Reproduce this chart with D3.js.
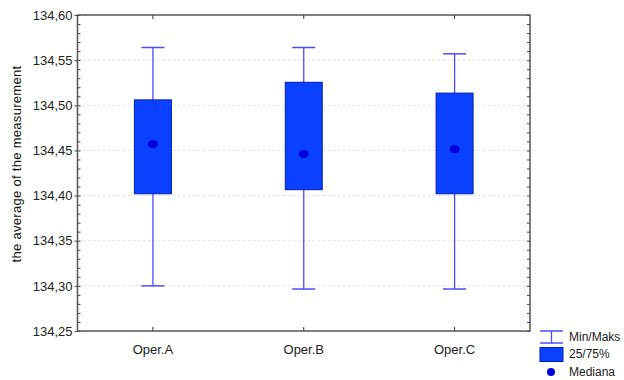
<!DOCTYPE html>
<html lang="en">
<head>
<meta charset="UTF-8">
<script src="https://d3js.org/d3.v7.min.js"></script>
<style>
    body { margin: 0; background: #fff; }
    svg { font-family: Arial, "Liberation Sans", sans-serif; }
</style>
</head>
<body>
<svg id="chart" width="624" height="380"></svg>
<script>
    // data
    var operators = ["Oper.A", "Oper.B", "Oper.C"];
    var minVals   = [134.300, 134.2965, 134.2965];
    var q25Vals   = [134.402, 134.4065, 134.402];
    var medVals   = [134.457, 134.446, 134.4515];
    var q75Vals   = [134.506, 134.5255, 134.5135];
    var maxVals   = [134.564, 134.564, 134.557];
    var yTicks    = [134.25, 134.30, 134.35, 134.40, 134.45, 134.50, 134.55, 134.60];
    var legendLabels = ["Min/Maks", "25/75%", "Mediana"];

    var margin = {top: 15, right: 94, bottom: 49, left: 77.5},
        width = 624 - margin.left - margin.right,
        height = 380 - margin.top - margin.bottom;

    var svg = d3.select("#chart");
    var g = svg.append("g")
        .attr("transform", "translate(" + margin.left + "," + margin.top + ")");

    var x = d3.scaleBand().domain(operators).range([0, width]);
    var y = d3.scaleLinear().domain([134.25, 134.60]).range([height, 0]);

    var fmt = function(d) { return d3.format(".2f")(d).replace(".", ","); };

    // grid lines
    g.selectAll(".grid")
        .data(yTicks.slice(1, -1))
        .enter().append("line")
        .attr("x1", 0).attr("x2", width)
        .attr("y1", function(d) { return y(d); })
        .attr("y2", function(d) { return y(d); })
        .attr("stroke", "#e2e2e2")
        .attr("stroke-width", 1)
        .attr("stroke-dasharray", "3,2");

    // minor ticks (inside on left and right)
    var minor = d3.range(134.25, 134.6001, 0.01);
    g.append("g")
        .call(d3.axisRight(y).tickValues(minor).tickSize(3).tickFormat(""))
        .call(function(a) { a.select(".domain").remove(); })
        .selectAll("line").attr("stroke", "#444");
    g.append("g")
        .attr("transform", "translate(" + width + ",0)")
        .call(d3.axisLeft(y).tickValues(minor).tickSize(3).tickFormat(""))
        .call(function(a) { a.select(".domain").remove(); })
        .selectAll("line").attr("stroke", "#444");

    // left axis with labels
    var yAxis = g.append("g")
        .call(d3.axisLeft(y).tickValues(yTicks).tickSize(3).tickPadding(2).tickFormat(fmt));
    yAxis.select(".domain").remove();
    yAxis.selectAll("line").attr("stroke", "#444");
    yAxis.selectAll("text")
        .attr("font-size", "13px")
        .attr("fill", "#222")
        .attr("font-family", "Arial, 'Liberation Sans', sans-serif");

    // bottom / top category ticks
    var xAxis = g.append("g")
        .attr("transform", "translate(0," + height + ")")
        .call(d3.axisBottom(x).tickSize(-4).tickPadding(14));
    xAxis.select(".domain").remove();
    xAxis.selectAll("line").attr("stroke", "#333");
    xAxis.selectAll("text")
        .attr("font-size", "13px")
        .attr("fill", "#222")
        .attr("font-family", "Arial, 'Liberation Sans', sans-serif");
    var xTop = g.append("g")
        .call(d3.axisTop(x).tickSize(-4).tickFormat(""));
    xTop.select(".domain").remove();
    xTop.selectAll("line").attr("stroke", "#333");

    // frame
    g.append("rect")
        .attr("width", width).attr("height", height)
        .attr("fill", "none")
        .attr("stroke", "#555")
        .attr("stroke-width", 1.5);

    // boxes
    var boxW = 37, capW = 23;
    var rows = operators.map(function(o, i) {
        return {name: o, min: minVals[i], q1: q25Vals[i], med: medVals[i], q3: q75Vals[i], max: maxVals[i]};
    });
    var box = g.selectAll(".box").data(rows).enter().append("g")
        .attr("transform", function(d) { return "translate(" + (x(d.name) + x.bandwidth() / 2) + ",0)"; });

    var whisk = "#4b4bff";
    box.append("line")
        .attr("x1", 0).attr("x2", 0)
        .attr("y1", function(d) { return y(d.max); })
        .attr("y2", function(d) { return y(d.min); })
        .attr("stroke", whisk).attr("stroke-width", 1.3);
    box.append("line")
        .attr("x1", -capW / 2).attr("x2", capW / 2)
        .attr("y1", function(d) { return y(d.max); })
        .attr("y2", function(d) { return y(d.max); })
        .attr("stroke", whisk).attr("stroke-width", 1.5);
    box.append("line")
        .attr("x1", -capW / 2).attr("x2", capW / 2)
        .attr("y1", function(d) { return y(d.min); })
        .attr("y2", function(d) { return y(d.min); })
        .attr("stroke", whisk).attr("stroke-width", 1.5);
    box.append("rect")
        .attr("x", -boxW / 2).attr("width", boxW)
        .attr("y", function(d) { return y(d.q3); })
        .attr("height", function(d) { return y(d.q1) - y(d.q3); })
        .attr("fill", "#0a40ff")
        .attr("stroke", "#0020b0")
        .attr("stroke-width", 1);
    box.append("ellipse")
        .attr("cx", 0).attr("cy", function(d) { return y(d.med); })
        .attr("rx", 5).attr("ry", 4)
        .attr("fill", "#0000dd");

    // y label
    svg.append("text")
        .attr("transform", "translate(21,164) rotate(-90)")
        .attr("text-anchor", "middle")
        .attr("font-size", "13px")
        .attr("letter-spacing", "0.3px")
        .attr("fill", "#111")
        .text("the average of the measurement");

    // legend
    var lg = svg.append("g").attr("transform", "translate(540,0)");
    lg.append("line").attr("x1", 0).attr("x2", 23).attr("y1", 331).attr("y2", 331).attr("stroke", whisk).attr("stroke-width", 1.5);
    lg.append("line").attr("x1", 0).attr("x2", 23).attr("y1", 343).attr("y2", 343).attr("stroke", whisk).attr("stroke-width", 1.5);
    lg.append("line").attr("x1", 11.5).attr("x2", 11.5).attr("y1", 331).attr("y2", 343).attr("stroke", whisk).attr("stroke-width", 1.3);
    lg.append("rect").attr("x", 0).attr("y", 347.5).attr("width", 23).attr("height", 14)
        .attr("fill", "#0a40ff").attr("stroke", "#0020b0");
    lg.append("ellipse").attr("cx", 11).attr("cy", 372).attr("rx", 4).attr("ry", 4).attr("fill", "#0000dd");
    lg.selectAll(".lt").data(legendLabels).enter().append("text")
        .attr("x", 29)
        .attr("y", function(d, i) { return [341, 358, 376][i]; })
        .attr("font-size", "12px")
        .attr("fill", "#222")
        .text(function(d) { return d; });
</script>
</body>
</html>
